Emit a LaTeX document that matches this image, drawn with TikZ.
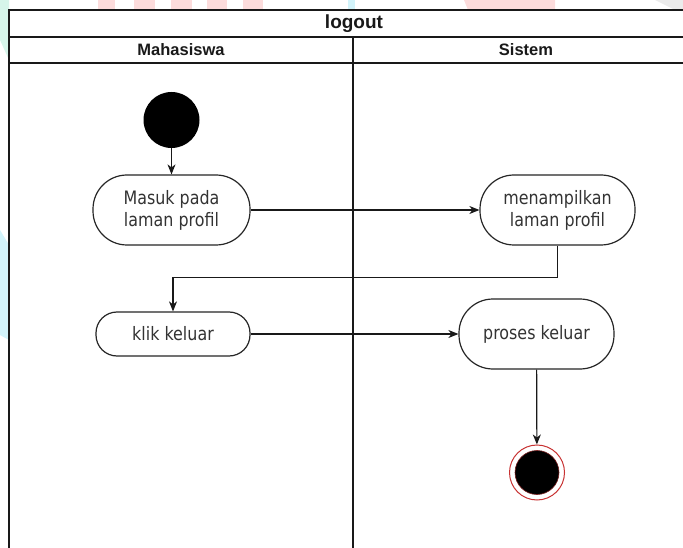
\documentclass[tikz,border=0pt]{standalone}
\usepackage{fontspec}
\setmainfont{Liberation Sans}
\newfontfamily\nodefont[FakeStretch=0.86]{DejaVu Sans}
\usetikzlibrary{arrows.meta}
\definecolor{txt}{HTML}{333333}
\definecolor{endred}{HTML}{C83232}
\definecolor{wmpink}{HTML}{FCDCDC}
\definecolor{wmcyan}{HTML}{D2F3FA}
\definecolor{wmmint}{HTML}{D6F5EA}
\definecolor{wmgray}{HTML}{EBEBEB}
\begin{document}
\begin{tikzpicture}[x=1pt,y=-1pt,
  frame/.style={draw=black!90, line width=1.3pt},
  act/.style={draw=black!85, line width=1.2pt, fill=white, rounded corners=34pt,
    minimum width=155pt, minimum height=70pt, inner sep=0pt, align=center,
    font=\nodefont\fontsize{18.5}{22}\selectfont, text=txt},
  actshort/.style={act, minimum height=44pt, rounded corners=21pt},
  arr/.style={-{Stealth[length=10pt,width=8pt,inset=3pt]}, line width=1.2pt, draw=black!90},
  head/.style={font=\bfseries\fontsize{16.5}{20}\selectfont, text=black!90}]
\useasboundingbox (0,0) rectangle (683,548);
\clip (0,0) rectangle (683,548);
% faint watermark peeking in the margins
\fill[wmpink] (98,0) rectangle (115,10);
\fill[wmpink] (134,0) rectangle (155,10);
\fill[wmpink] (171,0) rectangle (192,10);
\fill[wmpink] (207,0) rectangle (227,10);
\fill[wmpink] (243,0) rectangle (263,10);
\fill[wmcyan] (348,0) rectangle (355,10);
\fill[wmpink] (464,0) -- (555,0) -- (555,10) -- (468,10) -- cycle;
\fill[wmgray] (655,0) -- (683,0) -- (683,10) -- (675,10) -- cycle;
\fill[wmmint] (0,0) -- (9,0) -- (9,60) -- (0,40) -- cycle;
\fill[wmcyan] (0,230) -- (9,245) -- (9,340) -- (0,335) -- cycle;
% swimlane frame
\fill[white] (9,10) rectangle (700,560);
\draw[frame] (9,560) -- (9,10) -- (700,10);
\draw[frame] (9,37) -- (700,37);
\draw[frame] (9,63) -- (700,63);
\draw[frame] (353,37) -- (353,560);
\node[font=\bfseries\fontsize{19}{22}\selectfont, text=black!90] (title) at (354,23.5) {logout};
\node[head] (lane1) at (181,50) {Mahasiswa};
\node[head] (lane2) at (526,50) {Sistem};
% nodes
\node[circle, fill=black, minimum size=56pt, inner sep=0pt] (start) at (171.5,120) {};
\node[act, minimum width=157pt] (masuk) at (171.5,210) {Masuk pada\\laman profil};
\node[act] (tampil) at (557.5,210) {menampilkan\\laman profil};
\node[actshort, minimum width=154pt] (klik) at (173,334) {klik keluar};
\node[act] (proses) at (536.5,334) {proses keluar};
\node[circle, draw=endred, line width=1pt, fill=white, minimum size=55pt, inner sep=0pt] (stop) at (537,472.5) {};
\node[circle, fill=black, draw=endred!60!black, line width=0.6pt, minimum size=44pt, inner sep=0pt] (stopin) at (stop.center) {};
% connectors
\coordinate (bend) at (557.5,277.5);
\draw[arr] (start) -- (masuk);
\draw[arr] (masuk) -- (tampil);
\draw[arr] (tampil.south) -- (bend) -| (klik.north);
\draw[arr] (klik) -- (proses);
\draw[arr] (proses) -- (stop);
\end{tikzpicture}
\end{document}
